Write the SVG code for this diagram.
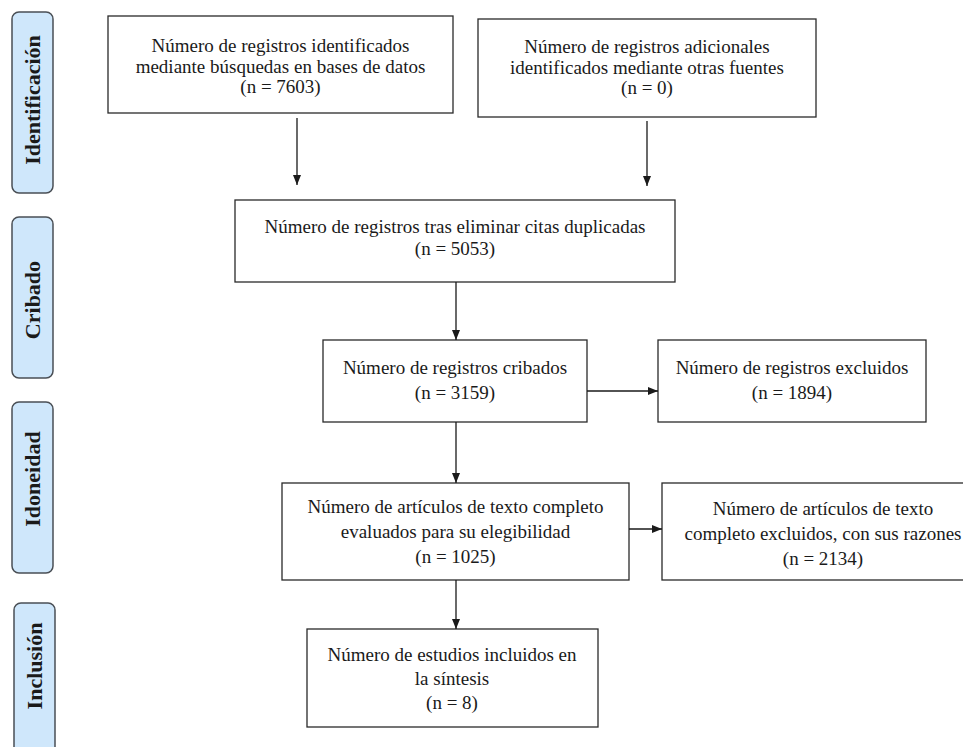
<svg xmlns="http://www.w3.org/2000/svg" width="963" height="747" viewBox="0 0 963 747">
  <defs>
    <marker id="ah" viewBox="0 0 10 8" refX="10" refY="4" markerWidth="10" markerHeight="8" markerUnits="userSpaceOnUse" orient="auto">
      <path d="M0,0 L10,4 L0,8 z" fill="#1a1a1a"/>
    </marker>
    <style>
      .pill { fill: #cfe7fb; stroke: #4a4f55; stroke-width: 1.5; }
      .pt { font-family: "Liberation Serif", "Times New Roman", serif; font-weight: bold; font-size: 22px; fill: #1a1a1a; text-anchor: middle; }
      .box { fill: #ffffff; stroke: #2a2a2a; stroke-width: 1.3; }
      .t { font-family: "Liberation Serif", "Times New Roman", serif; font-size: 19px; fill: #1a1a1a; text-anchor: middle; }
      .c { stroke: #1a1a1a; stroke-width: 1.3; fill: none; marker-end: url(#ah); }
    </style>
  </defs>
  <rect width="963" height="747" fill="#ffffff"/>

  <g id="phase-identificacion">
    <rect class="pill" x="12" y="12" width="41" height="181" rx="7"/>
    <text class="pt" transform="translate(40,100) rotate(-90)">Identificación</text>
  </g>
  <g id="phase-cribado">
    <rect class="pill" x="12" y="217" width="41" height="161" rx="7"/>
    <text class="pt" transform="translate(40,300) rotate(-90)">Cribado</text>
  </g>
  <g id="phase-idoneidad">
    <rect class="pill" x="12" y="402" width="41" height="171" rx="7"/>
    <text class="pt" transform="translate(40,479) rotate(-90)">Idoneidad</text>
  </g>
  <g id="phase-inclusion">
    <rect class="pill" x="14" y="603" width="41" height="160" rx="7"/>
    <text class="pt" transform="translate(42,666) rotate(-90)">Inclusión</text>
  </g>

  <g id="box-identificados">
    <rect class="box" x="108" y="16" width="345" height="97"/>
    <text class="t" x="280.5" y="52">Número de registros identificados</text>
    <text class="t" x="280.5" y="72.5">mediante búsquedas en bases de datos</text>
    <text class="t" x="280.5" y="93">(n = 7603)</text>
  </g>
  <g id="box-adicionales">
    <rect class="box" x="478" y="19" width="338" height="98"/>
    <text class="t" x="647" y="53">Número de registros adicionales</text>
    <text class="t" x="647" y="74">identificados mediante otras fuentes</text>
    <text class="t" x="647" y="94">(n = 0)</text>
  </g>
  <g id="box-duplicadas">
    <rect class="box" x="235" y="200" width="440" height="82"/>
    <text class="t" x="455" y="233">Número de registros tras eliminar citas duplicadas</text>
    <text class="t" x="455" y="255">(n = 5053)</text>
  </g>
  <g id="box-cribados">
    <rect class="box" x="323" y="340" width="264" height="82"/>
    <text class="t" x="455" y="374">Número de registros cribados</text>
    <text class="t" x="455" y="399">(n = 3159)</text>
  </g>
  <g id="box-excluidos">
    <rect class="box" x="658" y="340" width="268" height="82"/>
    <text class="t" x="792" y="374">Número de registros excluidos</text>
    <text class="t" x="792" y="399">(n = 1894)</text>
  </g>
  <g id="box-evaluados">
    <rect class="box" x="282" y="483" width="347" height="97"/>
    <text class="t" x="455.5" y="513">Número de artículos de texto completo</text>
    <text class="t" x="455.5" y="538">evaluados para su elegibilidad</text>
    <text class="t" x="455.5" y="563">(n = 1025)</text>
  </g>
  <g id="box-excluidos-razones">
    <rect class="box" x="662" y="483" width="330" height="97"/>
    <text class="t" x="823" y="515">Número de artículos de texto</text>
    <text class="t" x="823" y="540">completo excluidos, con sus razones</text>
    <text class="t" x="823" y="565">(n = 2134)</text>
  </g>
  <g id="box-incluidos">
    <rect class="box" x="307" y="629" width="291" height="98"/>
    <text class="t" x="452" y="661">Número de estudios incluidos en</text>
    <text class="t" x="452" y="685">la síntesis</text>
    <text class="t" x="452" y="709">(n = 8)</text>
  </g>

  <g id="connectors">
    <line class="c" x1="297" y1="118" x2="297" y2="185"/>
    <line class="c" x1="647" y1="121" x2="647" y2="186"/>
    <line class="c" x1="456" y1="282" x2="456" y2="340"/>
    <line class="c" x1="587" y1="391" x2="658" y2="391"/>
    <line class="c" x1="456" y1="422" x2="456" y2="483"/>
    <line class="c" x1="629" y1="529" x2="662" y2="529"/>
    <line class="c" x1="456" y1="580" x2="456" y2="629"/>
  </g>
</svg>
